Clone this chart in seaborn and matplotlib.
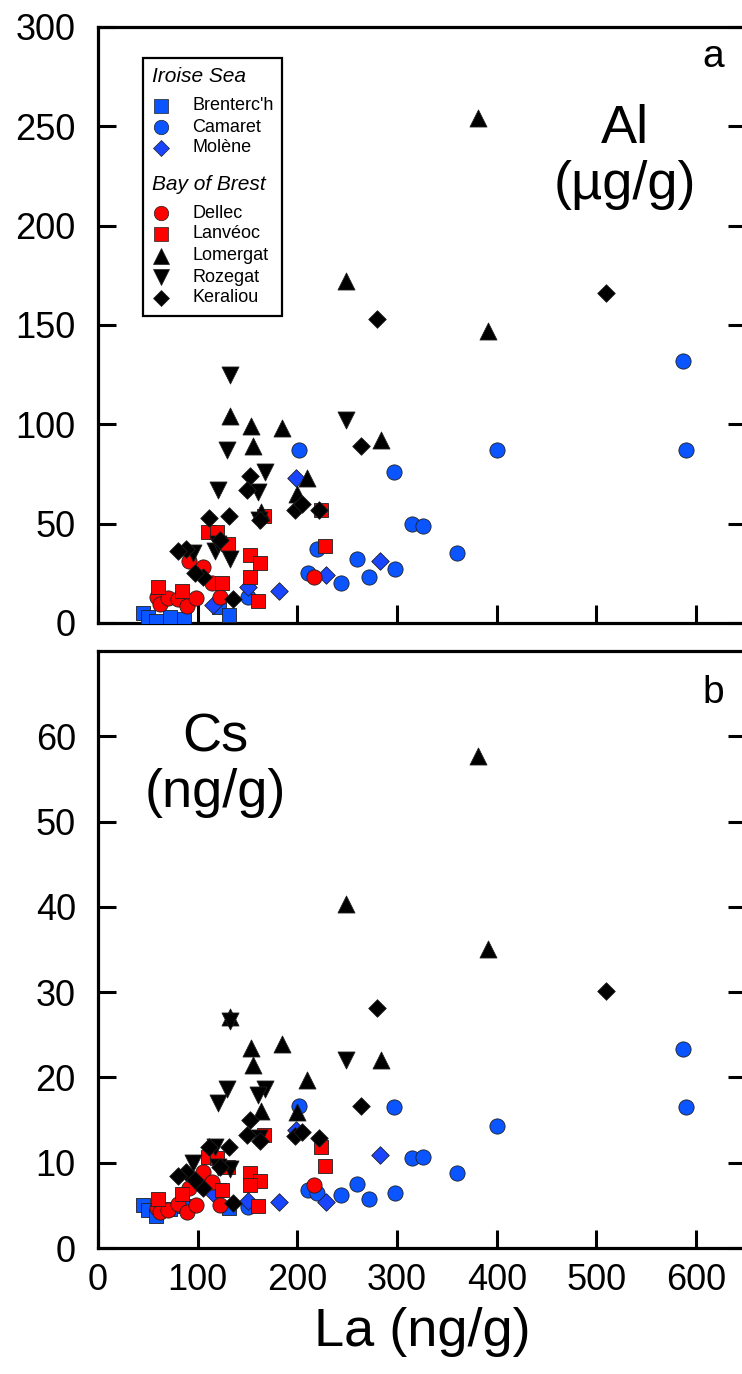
import numpy as np
import pandas as pd
import matplotlib
matplotlib.use("Agg")
import matplotlib.pyplot as plt
from matplotlib.patches import Rectangle
from matplotlib.lines import Line2D
import seaborn as sns

# ---------------- data ----------------
sites = ["Brenterc'h", "Camaret", "Molène", "Dellec", "Lanvéoc", "Lomergat", "Rozegat", "Keraliou"]

la_brenterch = [45, 50, 58, 72, 86, 121, 131]
al_brenterch = [5, 3, 1, 3, 2, 8, 4]
cs_brenterch = [5.0, 4.5, 3.7, 4.6, 4.9, 6.8, 4.7]

la_camaret = [587, 590, 400, 202, 297, 315, 326, 360, 260, 298, 272, 244, 211, 220, 150]
al_camaret = [132, 87, 87, 87, 76, 50, 49, 35, 32, 27, 23, 20, 25, 37, 13]
cs_camaret = [23.3, 16.5, 14.3, 16.6, 16.5, 10.5, 10.7, 8.8, 7.5, 6.4, 5.7, 6.2, 6.8, 6.5, 4.8]

la_molene = [115, 150, 182, 199, 229, 283]
al_molene = [9, 18, 16, 73, 24, 31]
cs_molene = [6.5, 5.5, 5.4, 13.8, 5.4, 10.9]

la_dellec = [59, 62, 70, 80, 89, 98, 91, 105, 114, 122, 217]
al_dellec = [13, 9.6, 12.6, 12, 8.6, 12.6, 31, 28, 20, 13, 23]
cs_dellec = [4.7, 4.2, 4.4, 5.2, 4.2, 5.0, 7.0, 8.9, 7.7, 5.0, 7.4]

la_lanveoc = [60, 84, 110, 119, 130, 124, 152, 162, 152, 160, 167, 224, 228]
al_lanveoc = [18, 16, 46, 46, 40, 20, 34, 30, 23, 11, 54, 57, 39]
cs_lanveoc = [5.8, 6.3, 10.7, 10.5, 9.5, 6.8, 8.8, 7.8, 7.4, 4.9, 13.3, 11.8, 9.6]

la_lomergat = [381, 249, 391, 284, 132, 153, 185, 155, 210, 200, 164]
al_lomergat = [254, 172, 147, 92, 104, 99, 98, 89, 73, 65, 56]
cs_lomergat = [57.7, 40.3, 35.1, 22.0, 27.1, 23.4, 23.9, 21.5, 19.7, 16.0, 16.1]

la_rozegat = [132, 249, 129, 168, 120, 160, 161, 95, 117, 132, 120]
al_rozegat = [125, 102, 87, 76, 67, 66, 52, 35, 36, 32, 40]
cs_rozegat = [26.6, 22.0, 18.7, 18.6, 17.0, 17.9, 12.9, 10.0, 11.8, 9.3, 9.5]

la_keraliou = [510, 280, 264, 152, 149, 198, 205, 222, 163, 131, 111, 88, 80, 122, 105, 97, 135]
al_keraliou = [166, 153, 89, 74, 67, 57, 60, 57, 52, 54, 53, 37, 36, 42, 23, 25, 12]
cs_keraliou = [30.1, 28.1, 16.6, 15.0, 13.3, 13.1, 13.6, 12.9, 12.5, 11.9, 11.8, 8.9, 8.4, 9.5, 7.0, 8.0, 5.3]

x_ticks = [0, 100, 200, 300, 400, 500, 600]
al_ticks = [0, 50, 100, 150, 200, 250, 300]
cs_ticks = [0, 10, 20, 30, 40, 50, 60]

groups = {"Iroise Sea": ["Brenterc'h", "Camaret", "Molène"],
          "Bay of Brest": ["Dellec", "Lanvéoc", "Lomergat", "Rozegat", "Keraliou"]}

# ---------------- table ----------------
series = {
    "Brenterc'h": (la_brenterch, al_brenterch, cs_brenterch),
    "Camaret": (la_camaret, al_camaret, cs_camaret),
    "Molène": (la_molene, al_molene, cs_molene),
    "Dellec": (la_dellec, al_dellec, cs_dellec),
    "Lanvéoc": (la_lanveoc, al_lanveoc, cs_lanveoc),
    "Lomergat": (la_lomergat, al_lomergat, cs_lomergat),
    "Rozegat": (la_rozegat, al_rozegat, cs_rozegat),
    "Keraliou": (la_keraliou, al_keraliou, cs_keraliou),
}
rows = []
for name in sites:
    la, al, cs = series[name]
    for a, b, c in zip(la, al, cs):
        rows.append({"site": name, "La": a, "Al": b, "Cs": c})
df = pd.DataFrame(rows)

# ---------------- styles ----------------
style = {
    "Brenterc'h": dict(marker="s", color="#0A55FF", s=110),
    "Camaret":    dict(marker="o", color="#0A55FF", s=120),
    "Molène":     dict(marker="D", color="#1A45FF", s=80),
    "Dellec":     dict(marker="o", color="#FF0000", s=120),
    "Lanvéoc":    dict(marker="s", color="#FF0000", s=110),
    "Lomergat":   dict(marker="^", color="#000000", s=150),
    "Rozegat":    dict(marker="v", color="#000000", s=150),
    "Keraliou":   dict(marker="D", color="#000000", s=80),
}

sns.set_style("ticks")
plt.rcParams["font.family"] = ["Liberation Sans", "DejaVu Sans"]
plt.rcParams["text.color"] = "black"
plt.rcParams["axes.labelcolor"] = "black"
plt.rcParams["xtick.color"] = "black"
plt.rcParams["ytick.color"] = "black"

fig = plt.figure(figsize=(7.42, 13.74), dpi=100)
W, H = 742, 1374
left_px, right_px = 98, 746
ax1 = fig.add_axes([left_px / W, 1 - 623 / H, (right_px - left_px) / W, 596 / H])
ax2 = fig.add_axes([left_px / W, 1 - 1248 / H, (right_px - left_px) / W, 597 / H])

for ax, ycol in ((ax1, "Al"), (ax2, "Cs")):
    for name in sites:
        st = style[name]
        sub = df[df["site"] == name]
        sns.scatterplot(data=sub, x="La", y=ycol, ax=ax, marker=st["marker"],
                        color=st["color"], s=st["s"], edgecolor="#202020",
                        linewidth=0.6, legend=False, zorder=3)
    ax.set_xlim(0, 650)
    ax.set_xticks(x_ticks)
    for sp in ax.spines.values():
        sp.set_linewidth(2.3)
        sp.set_color("black")
    ax.tick_params(axis="both", direction="in", length=13, width=2.2,
                   labelsize=26, right=True, top=False, colors="black",
                   labelcolor="black")
    ax.tick_params(axis="y", pad=16)
    ax.tick_params(axis="x", pad=11)
    ax.set_ylabel("")
    ax.set_xlabel("")

ax1.set_ylim(0, 300)
ax1.set_yticks(al_ticks)
ax1.tick_params(labelbottom=False)
ax2.set_ylim(0, 70)
ax2.set_yticks(cs_ticks)
ax2.set_xlabel("La (ng/g)", fontsize=39, labelpad=6, color="black")

ax1.text(0.813, 0.782, "Al\n(µg/g)", transform=ax1.transAxes, ha="center",
         va="center", fontsize=39, multialignment="center", linespacing=1.15)
ax2.text(0.181, 0.809, "Cs\n(ng/g)", transform=ax2.transAxes, ha="center",
         va="center", fontsize=39, multialignment="center", linespacing=1.15)
ax1.text(0.949, 0.95, "a", transform=ax1.transAxes, ha="center", va="center", fontsize=28)
ax2.text(0.949, 0.93, "b", transform=ax2.transAxes, ha="center", va="center", fontsize=28)

# ---------------- legend (manual, grouped) ----------------
bx0, bx1 = (143 - 98) / 648, (282 - 98) / 648
by0, by1 = (623 - 316) / 596, (623 - 58) / 596
ax1.add_patch(Rectangle((bx0, by0), bx1 - bx0, by1 - by0, transform=ax1.transAxes,
                        fill=True, facecolor="white", edgecolor="black",
                        linewidth=1.6, zorder=5))
head_x = (152 - 98) / 648
mark_x = (161 - 98) / 648
text_x = (192 - 98) / 648
entry_y = {"Iroise Sea": 77, "Brenterc'h": 106, "Camaret": 127, "Molène": 148,
           "Bay of Brest": 185, "Dellec": 213, "Lanvéoc": 234, "Lomergat": 256,
           "Rozegat": 277, "Keraliou": 298}
for head, members in groups.items():
    ax1.text(head_x, (623 - entry_y[head]) / 596, head, transform=ax1.transAxes,
             ha="left", va="center", fontsize=15, style="italic", zorder=6)
    for name in members:
        st = style[name]
        yy = (623 - entry_y[name]) / 596
        ax1.add_line(Line2D([mark_x], [yy], transform=ax1.transAxes, marker=st["marker"],
                            markersize=np.sqrt(st["s"]) * 0.95, color=st["color"],
                            markeredgecolor="#202020", markeredgewidth=0.5,
                            linestyle="none", zorder=6))
        ax1.text(text_x, yy, name, transform=ax1.transAxes, ha="left", va="center",
                 fontsize=13, zorder=6)

fig.savefig("out.png", dpi=100)
